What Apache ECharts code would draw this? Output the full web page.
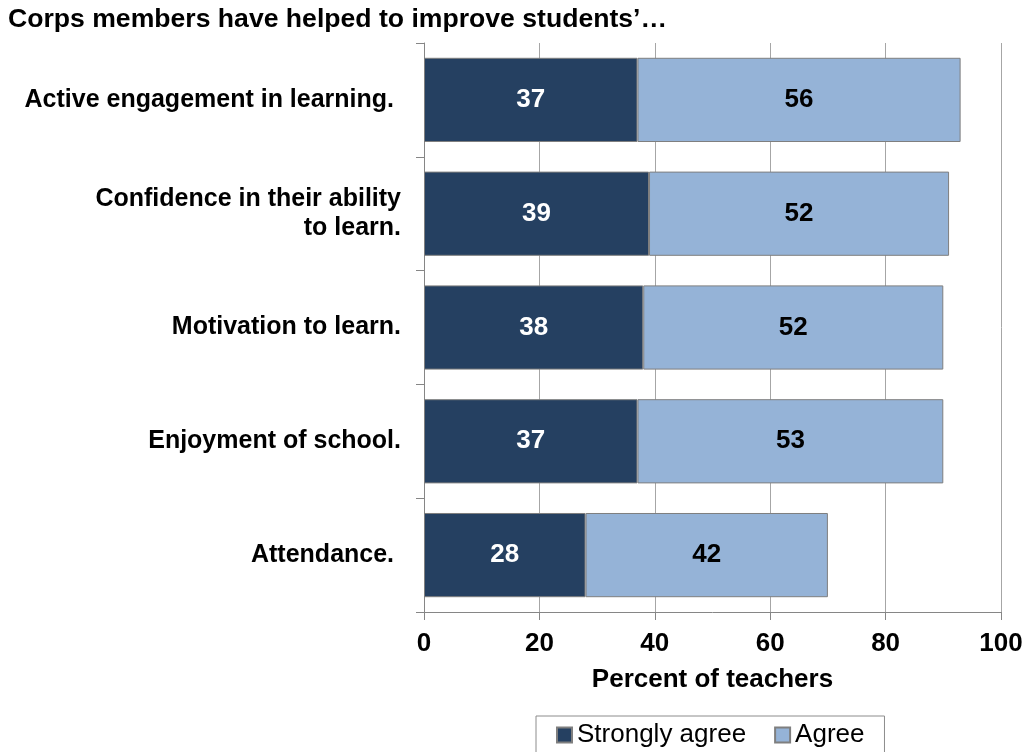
<!DOCTYPE html>
<html>
<head>
<meta charset="utf-8">
<title>Corps members have helped to improve students'…</title>
<script src="https://cdn.jsdelivr.net/npm/echarts@6/dist/echarts.min.js"></script>
<style>
  html, body { margin: 0; padding: 0; background: #ffffff; }
  #chart { width: 1028px; height: 752px; }
</style>
</head>
<body>
<div id="chart"></div>
<script>
  // data
  var categories = [
    'Active engagement in learning. ',
    'Confidence in their ability\nto learn.',
    'Motivation to learn.',
    'Enjoyment of school.',
    'Attendance. '
  ];
  var stronglyAgree = [37, 39, 38, 37, 28];
  var agree = [56, 52, 52, 53, 42];
  var xTicks = [0, 20, 40, 60, 80, 100];

  var font = "'Liberation Sans', Arial, sans-serif";
  var gridGrey = '#a6a6a6';
  var axisGrey = '#868686';

  var myChart = echarts.init(document.getElementById('chart'));
  myChart.setOption({
    animation: false,
    title: {
      text: 'Corps members have helped to improve students\u2019\u2026',
      left: 8,
      top: 6,
      padding: 0,
      textStyle: { fontFamily: font, fontSize: 26.6, fontWeight: 'bold', color: '#000' }
    },
    legend: {
      data: ['Strongly agree', 'Agree'],
      left: 536,
      top: 716,
      padding: [6, 20, 6, 20],
      borderColor: '#8c8c8c',
      borderWidth: 1,
      icon: 'rect',
      itemWidth: 15,
      itemHeight: 15,
      itemGap: 28,
      textStyle: { fontFamily: font, fontSize: 26, color: '#000' }
    },
    grid: {
      left: 424,
      right: 27,
      top: 43,
      bottom: 140
    },
    xAxis: {
      type: 'value',
      min: xTicks[0],
      max: xTicks[xTicks.length - 1],
      interval: xTicks[1] - xTicks[0],
      name: 'Percent of teachers',
      nameLocation: 'middle',
      nameGap: 55,
      nameTextStyle: { fontFamily: font, fontSize: 26, fontWeight: 'bold', color: '#000' },
      axisLine: { show: true, lineStyle: { color: axisGrey, width: 1 } },
      axisTick: { show: true, length: 8, lineStyle: { color: axisGrey } },
      splitLine: { show: true, lineStyle: { color: gridGrey, width: 1 } },
      axisLabel: {
        margin: 19,
        fontFamily: font, fontSize: 26, fontWeight: 'bold', color: '#000'
      }
    },
    yAxis: {
      type: 'category',
      data: categories,
      inverse: true,
      axisLine: { show: true, lineStyle: { color: axisGrey, width: 1 } },
      axisTick: { show: true, length: 8, lineStyle: { color: axisGrey } },
      axisLabel: {
        margin: 23,
        fontFamily: font, fontSize: 25, fontWeight: 'bold', color: '#000',
        lineHeight: 29,
        align: 'right'
      }
    },
    series: [
      {
        name: 'Strongly agree',
        type: 'bar',
        stack: 'total',
        barCategoryGap: '26%',
        data: stronglyAgree,
        itemStyle: { color: '#254061', borderColor: '#7f7f7f', borderWidth: 1 },
        label: {
          show: true,
          position: 'inside',
          fontFamily: font, fontSize: 26, fontWeight: 'bold', color: '#ffffff'
        }
      },
      {
        name: 'Agree',
        type: 'bar',
        stack: 'total',
        barCategoryGap: '26%',
        data: agree,
        itemStyle: { color: '#95b3d7', borderColor: '#7f7f7f', borderWidth: 1 },
        label: {
          show: true,
          position: 'inside',
          fontFamily: font, fontSize: 26, fontWeight: 'bold', color: '#000000'
        }
      }
    ]
  });
</script>
</body>
</html>
